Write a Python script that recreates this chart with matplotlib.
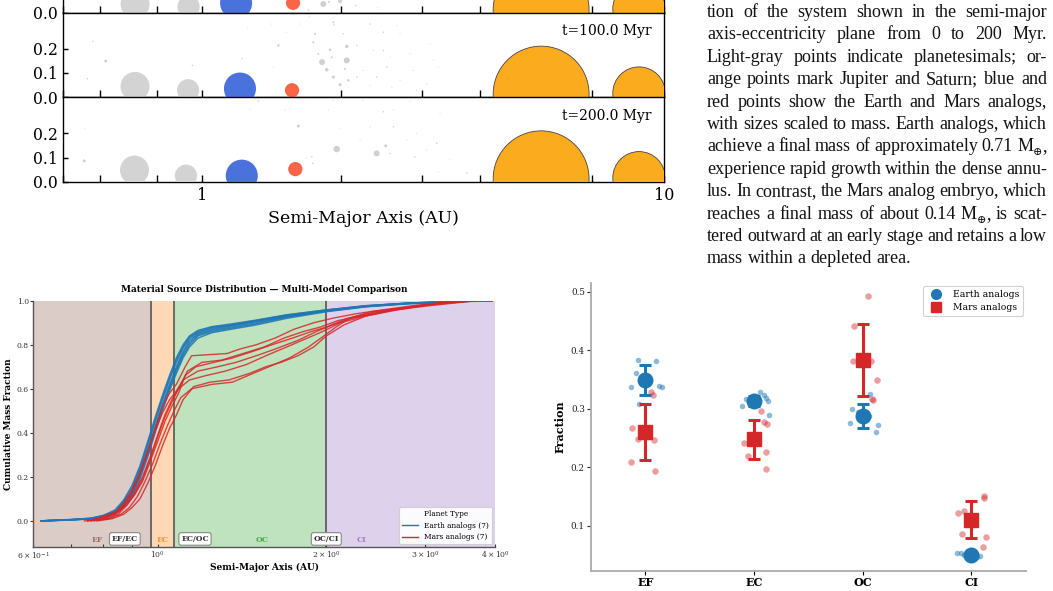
import matplotlib
matplotlib.use('Agg')
import matplotlib.pyplot as plt
import numpy as np
from matplotlib.ticker import FixedLocator, LogLocator, NullFormatter, FixedFormatter
from matplotlib.lines import Line2D

W, H = 1053, 591
plt.rcParams['font.family'] = ['DejaVu Serif']
plt.rcParams['mathtext.fontset'] = 'dejavuserif'

# ======================= DATA =======================
# --- Panel A: a-e snapshots (top snapshot is cut off by the page) ---
snap_times = [None, 100.0, 200.0]
embryo_a = [[0.716, 0.935, 1.185, 1.574],
            [0.716, 0.933, 1.208, 1.566],
            [0.714, 0.923, 1.219, 1.592]]
embryo_e = [[0.035, 0.025, 0.040, 0.041],
            [0.044, 0.028, 0.035, 0.028],
            [0.048, 0.025, 0.025, 0.052]]
embryo_mass = [0.58, 0.34, 0.71, 0.14]          # Earth masses
embryo_kind = ['other', 'other', 'earth', 'mars']
giant_a = [5.42, 8.83]
giant_e = [0.012, 0.016]
giant_mass = [317.8, 95.2]

pl_top_a = [1.83, 1.99, 1.88, 2.15, 2.40, 1.70]
pl_top_e = [0.036, 0.048, 0.045, 0.030, 0.020, 0.010]
pl_top_m = [0.025, 0.011, 0.0028, 0.0016, 0.0007, 0.0016]

pl_mid_a = [0.619, 0.580, 0.565, 0.953, 1.219, 1.256, 1.411, 1.463, 1.427, 1.525,
            1.630, 1.707, 1.756, 1.741, 1.785, 1.819, 1.862, 1.893, 1.909, 1.924,
            1.930, 1.924, 1.990, 2.057, 2.057, 2.073, 2.022, 2.039, 2.310, 2.469,
            2.639, 2.683, 2.162, 2.348, 2.469, 2.553, 2.819, 3.116, 3.168, 3.248,
            2.511, 2.234, 2.867, 2.162, 2.388, 2.683, 3.064, 2.310, 2.574, 2.915]
pl_mid_e = [0.149, 0.231, 0.076, 0.131, 0.159, 0.289, 0.303, 0.214, 0.124, 0.269,
            0.303, 0.333, 0.262, 0.227, 0.179, 0.145, 0.113, 0.196, 0.165, 0.310,
            0.300, 0.083, 0.051, 0.152, 0.210, 0.069, 0.262, 0.117, 0.303, 0.269,
            0.296, 0.262, 0.214, 0.193, 0.193, 0.165, 0.179, 0.221, 0.152, 0.124,
            0.124, 0.110, 0.110, 0.083, 0.083, 0.069, 0.055, 0.048, 0.041, 0.028]
pl_mid_m = [0.0062, 0.0016, 0.0016, 0.0016, 0.0016, 0.0007, 0.0007, 0.0043, 0.0007, 0.0007,
            0.0007, 0.0007, 0.0028, 0.0028, 0.0028, 0.025, 0.0085, 0.0043, 0.0028, 0.0028,
            0.0016, 0.0062, 0.0062, 0.025, 0.0085, 0.0043, 0.0016, 0.0028, 0.0016, 0.0016,
            0.0007, 0.0007, 0.0016, 0.0007, 0.0016, 0.0007, 0.0007, 0.0007, 0.0007, 0.0007,
            0.0016, 0.0007, 0.0007, 0.0016, 0.0016, 0.0007, 0.0007, 0.0007, 0.0007, 0.0007]

pl_bot_a = [0.556, 0.558, 1.324, 1.270, 1.616, 1.512, 1.551, 1.736, 1.728, 1.685,
            1.957, 1.983, 1.924, 1.876, 2.388, 2.498, 2.227, 2.469, 2.595, 2.819,
            2.310, 2.595, 2.915, 3.275, 2.198, 2.774, 3.221, 2.553, 2.891, 3.064,
            3.248, 3.741, 3.442]
pl_bot_e = [0.086, 0.221, 0.333, 0.299, 0.230, 0.296, 0.300, 0.076, 0.103, 0.097,
            0.135, 0.221, 0.338, 0.296, 0.117, 0.148, 0.338, 0.289, 0.296, 0.330,
            0.227, 0.227, 0.200, 0.283, 0.172, 0.172, 0.159, 0.117, 0.103, 0.131,
            0.041, 0.035, 0.090]
pl_bot_m = [0.0062, 0.0007, 0.0016, 0.0007, 0.0062, 0.0007, 0.0007, 0.0016, 0.0016, 0.0007,
            0.029, 0.0007, 0.0007, 0.0007, 0.025, 0.0062, 0.0007, 0.0016, 0.0007, 0.0007,
            0.0007, 0.0016, 0.0007, 0.0007, 0.0007, 0.0007, 0.0016, 0.0016, 0.0016, 0.0007,
            0.0007, 0.0016, 0.0007]

# --- Caption text ("M_⊕" = M with subscript ⊕) ---
caption_lines = [
    "tion of the system shown in the semi-major",
    "axis-eccentricity plane from 0 to 200 Myr.",
    "Light-gray points indicate planetesimals; or-",
    "ange points mark Jupiter and Saturn; blue and",
    "red points show the Earth and Mars analogs,",
    "with sizes scaled to mass. Earth analogs, which",
    "achieve a final mass of approximately 0.71 M_⊕,",
    "experience rapid growth within the dense annu-",
    "lus. In contrast, the Mars analog embryo, which",
    "reaches a final mass of about 0.14 M_⊕, is scat-",
    "tered outward at an early stage and retains a low",
    "mass within a depleted area.",
]

# --- Panel C: cumulative mass fraction vs source location ---
zone_names = ['EF', 'EC', 'OC', 'CI']
zone_edges = [0.6, 0.975, 1.07, 2.0, 4.0]
zone_label_a = [0.78, 1.02, 1.535, 2.31]
boundary_names = ['EF/EC', 'EC/OC', 'OC/CI']
boundary_label_a = [0.874, 1.166, 2.0]

blue_a = [0.62, 0.70, 0.76, 0.80, 0.84, 0.87, 0.90, 0.93, 0.96, 0.99, 1.02, 1.05, 1.08,
          1.11, 1.14, 1.18, 1.25, 1.35, 1.50, 1.70, 2.00, 2.35, 2.80, 3.30, 3.95]
blue_y = [
    [0, 0.005, 0.010, 0.020, 0.040, 0.080, 0.13, 0.22, 0.32, 0.43, 0.53, 0.62, 0.70, 0.77, 0.820, 0.850, 0.870, 0.885, 0.905, 0.930, 0.955, 0.975, 0.988, 0.995, 1.0],
    [0, 0.004, 0.010, 0.020, 0.035, 0.070, 0.12, 0.20, 0.30, 0.41, 0.51, 0.60, 0.68, 0.75, 0.800, 0.840, 0.860, 0.875, 0.895, 0.925, 0.952, 0.973, 0.987, 0.995, 1.0],
    [0, 0.006, 0.012, 0.025, 0.045, 0.090, 0.15, 0.24, 0.35, 0.46, 0.56, 0.65, 0.73, 0.79, 0.835, 0.860, 0.880, 0.890, 0.910, 0.935, 0.958, 0.977, 0.989, 0.996, 1.0],
    [0, 0.005, 0.010, 0.020, 0.040, 0.075, 0.12, 0.21, 0.31, 0.42, 0.52, 0.61, 0.69, 0.76, 0.810, 0.845, 0.865, 0.880, 0.900, 0.928, 0.953, 0.974, 0.988, 0.995, 1.0],
    [0, 0.005, 0.012, 0.022, 0.042, 0.085, 0.14, 0.23, 0.34, 0.45, 0.55, 0.64, 0.72, 0.785, 0.830, 0.855, 0.875, 0.888, 0.908, 0.932, 0.956, 0.976, 0.989, 0.996, 1.0],
    [0, 0.004, 0.009, 0.018, 0.035, 0.065, 0.11, 0.19, 0.29, 0.40, 0.50, 0.59, 0.67, 0.74, 0.790, 0.830, 0.855, 0.870, 0.890, 0.920, 0.950, 0.972, 0.986, 0.994, 1.0],
    [0, 0.006, 0.011, 0.024, 0.050, 0.095, 0.16, 0.25, 0.36, 0.47, 0.57, 0.66, 0.74, 0.80, 0.840, 0.865, 0.882, 0.894, 0.912, 0.936, 0.958, 0.977, 0.989, 0.996, 1.0],
]

red_a = [
    [0.74, 0.80, 0.84, 0.87, 0.90, 0.93, 0.96, 0.99, 1.02, 1.05, 1.08, 1.12, 1.15, 1.33, 1.40, 1.50, 1.62, 1.75, 1.90, 2.05, 2.25, 2.55, 2.90, 3.30, 3.60],
    [0.76, 0.81, 0.85, 0.88, 0.91, 0.94, 0.97, 1.00, 1.03, 1.06, 1.09, 1.13, 1.20, 1.30, 1.42, 1.55, 1.68, 1.82, 1.95, 2.10, 2.30, 2.60, 3.00, 3.40, 3.70],
    [0.75, 0.80, 0.84, 0.87, 0.90, 0.93, 0.96, 0.99, 1.02, 1.05, 1.08, 1.11, 1.18, 1.28, 1.38, 1.50, 1.62, 1.78, 1.92, 2.05, 2.22, 2.50, 2.85, 3.20, 3.60],
    [0.77, 0.82, 0.86, 0.89, 0.92, 0.95, 0.98, 1.01, 1.04, 1.07, 1.10, 1.15, 1.25, 1.36, 1.45, 1.58, 1.72, 1.86, 1.98, 2.08, 2.20, 2.40, 2.80, 3.20, 3.60],
    [0.75, 0.80, 0.85, 0.88, 0.91, 0.94, 0.97, 1.00, 1.03, 1.06, 1.09, 1.14, 1.22, 1.32, 1.44, 1.56, 1.70, 1.85, 1.97, 2.12, 2.35, 2.65, 3.00, 3.35, 3.65],
    [0.76, 0.81, 0.85, 0.88, 0.91, 0.94, 0.97, 1.00, 1.03, 1.06, 1.09, 1.12, 1.17, 1.26, 1.36, 1.48, 1.60, 1.74, 1.88, 2.00, 2.18, 2.45, 2.80, 3.15, 3.55],
    [0.78, 0.83, 0.87, 0.90, 0.93, 0.96, 0.99, 1.02, 1.05, 1.08, 1.11, 1.16, 1.24, 1.34, 1.46, 1.56, 1.66, 1.78, 1.90, 2.00, 2.15, 2.35, 2.70, 3.10, 3.50],
]
red_y = [
    [0, 0.01, 0.03, 0.07, 0.13, 0.21, 0.31, 0.42, 0.52, 0.58, 0.62, 0.70, 0.75, 0.76, 0.78, 0.80, 0.83, 0.87, 0.90, 0.92, 0.94, 0.96, 0.98, 0.99, 1.0],
    [0, 0.01, 0.03, 0.07, 0.12, 0.19, 0.28, 0.38, 0.47, 0.54, 0.60, 0.68, 0.72, 0.73, 0.76, 0.79, 0.83, 0.86, 0.88, 0.91, 0.93, 0.955, 0.975, 0.99, 1.0],
    [0, 0.02, 0.04, 0.08, 0.14, 0.22, 0.32, 0.41, 0.49, 0.55, 0.59, 0.64, 0.68, 0.70, 0.72, 0.75, 0.78, 0.82, 0.86, 0.89, 0.92, 0.95, 0.97, 0.99, 1.0],
    [0, 0.01, 0.03, 0.06, 0.11, 0.18, 0.26, 0.35, 0.43, 0.50, 0.56, 0.60, 0.62, 0.63, 0.66, 0.70, 0.74, 0.79, 0.84, 0.88, 0.92, 0.95, 0.97, 0.99, 1.0],
    [0, 0.01, 0.04, 0.08, 0.13, 0.20, 0.29, 0.39, 0.48, 0.55, 0.60, 0.64, 0.66, 0.68, 0.71, 0.75, 0.79, 0.83, 0.86, 0.90, 0.93, 0.96, 0.98, 0.99, 1.0],
    [0, 0.02, 0.04, 0.07, 0.12, 0.18, 0.27, 0.36, 0.45, 0.52, 0.58, 0.66, 0.70, 0.72, 0.74, 0.77, 0.80, 0.83, 0.86, 0.88, 0.92, 0.95, 0.97, 0.99, 1.0],
    [0, 0.01, 0.03, 0.06, 0.10, 0.17, 0.25, 0.34, 0.42, 0.48, 0.55, 0.61, 0.63, 0.64, 0.67, 0.70, 0.72, 0.75, 0.79, 0.84, 0.89, 0.93, 0.96, 0.985, 1.0],
]

# --- Panel D: source fractions ---
categories = ['EF', 'EC', 'OC', 'CI']
earth_mean = [0.349, 0.313, 0.288, 0.050]
earth_err = [0.026, 0.008, 0.020, 0.003]
mars_mean = [0.260, 0.248, 0.383, 0.111]
mars_err = [0.048, 0.033, 0.061, 0.032]
earth_pts = [[0.383, 0.361, 0.381, 0.337, 0.339, 0.337, 0.308],
             [0.328, 0.317, 0.323, 0.319, 0.314, 0.305, 0.290],
             [0.325, 0.300, 0.287, 0.275, 0.273, 0.261, 0.294],
             [0.0535, 0.054, 0.050, 0.049, 0.047, 0.048, 0.052]]
earth_jit = [[-0.064, -0.088, 0.096, -0.132, 0.126, 0.151, -0.061],
             [0.058, -0.071, 0.095, 0.110, 0.129, -0.114, 0.134],
             [0.067, -0.099, 0.061, -0.120, 0.144, 0.122, -0.040],
             [-0.130, -0.095, -0.070, 0.076, 0.052, -0.040, 0.040]]
mars_pts = [[0.329, 0.324, 0.268, 0.249, 0.247, 0.210, 0.194],
            [0.296, 0.278, 0.274, 0.242, 0.226, 0.220, 0.198],
            [0.493, 0.442, 0.382, 0.382, 0.349, 0.317, 0.315],
            [0.151, 0.147, 0.122, 0.125, 0.087, 0.081, 0.064]]
mars_jit = [[0.050, 0.070, -0.120, -0.064, 0.080, -0.135, 0.089],
            [0.064, 0.095, 0.120, -0.096, 0.107, -0.059, 0.110],
            [0.052, -0.080, -0.086, 0.077, 0.134, 0.088, 0.095],
            [0.117, 0.117, -0.125, -0.065, -0.090, 0.136, 0.108]]

# ======================= FIGURE =======================
fig = plt.figure(figsize=(W / 100, H / 100), dpi=100)


def add_ax_px(x0, y0, x1, y1):
    return fig.add_axes([x0 / W, 1 - y1 / H, (x1 - x0) / W, (y1 - y0) / H])


# ---------------- Panel A ----------------
EMB_K = 750.0     # marker area per Earth mass (embryos / planetesimals)
GIANT_K = 15.0    # marker area per Earth mass (giants)
kind_color = {'other': '#d3d3d3', 'earth': '#4a72dc', 'mars': '#fa6548'}
pl_sets = [(pl_top_a, pl_top_e, pl_top_m), (pl_mid_a, pl_mid_e, pl_mid_m), (pl_bot_a, pl_bot_e, pl_bot_m)]
bounds = [-71.8, 12.7, 97.0, 181.7]
for k in range(3):
    ax = add_ax_px(63, bounds[k], 664, bounds[k + 1])
    pa, pe, pm = pl_sets[k]
    ax.scatter(pa, pe, s=np.array(pm) * EMB_K, color='#d0d0d0', linewidths=0, zorder=2)
    ax.scatter(embryo_a[k], embryo_e[k], s=np.array(embryo_mass) * EMB_K,
               c=[kind_color[q] for q in embryo_kind], linewidths=0, zorder=3)
    ax.scatter(giant_a, giant_e, s=np.array(giant_mass) * GIANT_K, color='#fbab1e',
               edgecolors='#444444', linewidths=0.6, zorder=3)
    ax.set_xscale('log')
    ax.set_xlim(0.5, 10)
    ax.set_ylim(0, 0.35)
    if k == 0:
        ax.set_yticks([0.0])
        ax.set_yticklabels(['0.0'])
    else:
        ax.set_yticks([0.0, 0.1, 0.2])
        ax.set_yticklabels(['0.0', '0.1', '0.2'])
    ax.xaxis.set_major_locator(FixedLocator([1, 10]))
    ax.xaxis.set_minor_locator(LogLocator(base=10, subs=np.arange(2, 10)))
    ax.xaxis.set_minor_formatter(NullFormatter())
    if k == 2:
        ax.xaxis.set_major_formatter(FixedFormatter(['1', '10']))
        ax.set_xlabel('Semi-Major Axis (AU)', fontsize=12.5, labelpad=4)
    else:
        ax.xaxis.set_major_formatter(NullFormatter())
    ax.tick_params(axis='x', which='both', direction='in', length=5, width=1, labelsize=11.5, pad=4)
    ax.tick_params(axis='y', direction='in', length=3.5, width=1, labelsize=11.3, pad=3.5)
    for sp in ax.spines.values():
        sp.set_linewidth(1.0)
    if snap_times[k] is not None:
        ax.text(0.98, 0.78, f't={snap_times[k]:.1f} Myr', transform=ax.transAxes,
                ha='right', va='center', fontsize=10)

# ---------------- Caption text (justified) ----------------
renderer = fig.canvas.get_renderer()
X0, X1 = 707.0, 1047.0
cap_font = ['Liberation Serif', 'DejaVu Serif']
SUB = '_⊕'


def word_parts(w):
    # returns list of (text, is_subscript)
    if SUB in w:
        pre, post = w.split(SUB)
        parts = [(pre, False), ('⊕', True)]
        if post:
            parts.append((post, False))
        return parts
    return [(w, False)]


def make_word(w, fs):
    arts = []
    for txt, sub in word_parts(w):
        t = fig.text(0, 0, txt, fontsize=fs * (0.62 if sub else 1.0), family=cap_font,
                     ha='left', va='baseline', color='#111111')
        arts.append((t, sub))
    widths = [t.get_window_extent(renderer).width for t, _ in arts]
    return arts, widths


def place_word(arts, widths, x, yb, fs):
    xx = x
    for (t, sub), w in zip(arts, widths):
        dy = (0.22 * fs * 100 / 72) if sub else 0.0
        t.set_position((xx / W, 1 - (yb + dy) / H))
        xx += w


# fit font size so the tightest line fits with a shrunk inter-word space
fs0 = 12.0
need = []
for line in caption_lines[:-1]:
    ws = line.split(' ')
    tot = 0.0
    for w in ws:
        arts, widths = make_word(w, fs0)
        tot += sum(widths)
        for t, _ in arts:
            t.remove()
    need.append((tot / fs0, len(ws) - 1))
fs = min((X1 - X0) / (a + n * 0.21 * 100 / 72) for a, n in need)
space_px = 0.25 * fs * 100 / 72

for i, line in enumerate(caption_lines):
    yb = 17.0 + 22.4 * i
    words = line.split(' ')
    made = [make_word(w, fs) for w in words]
    wsum = sum(sum(wd) for _, wd in made)
    if i < len(caption_lines) - 1 and len(words) > 1:
        gap = (X1 - X0 - wsum) / (len(words) - 1)
    else:
        gap = space_px
    x = X0
    for arts, widths in made:
        place_word(arts, widths, x, yb, fs)
        x += sum(widths) + gap

# ---------------- Panel C ----------------
axc = add_ax_px(33.3, 300.7, 495, 547.3)
zone_colors = ['#8c564b', '#ff7f0e', '#2ca02c', '#9467bd']
for z in range(4):
    axc.axvspan(zone_edges[z], zone_edges[z + 1], color=zone_colors[z], alpha=0.3, lw=0, zorder=0)
for b in zone_edges[1:4]:
    axc.axvline(b, color='#555555', lw=1.2, zorder=1)
for yv in blue_y:
    axc.plot(blue_a, yv, color='#1f77b4', lw=1.1, alpha=0.85, zorder=2)
for av, yv in zip(red_a, red_y):
    axc.plot(av, yv, color='#d62728', lw=1.0, alpha=0.85, zorder=3)
for z in range(4):
    axc.text(zone_label_a[z], -0.088, zone_names[z], color=zone_colors[z], fontsize=5.5,
             fontweight='bold', ha='center', va='center', alpha=0.8, zorder=4)
for nm, xa in zip(boundary_names, boundary_label_a):
    axc.text(xa, -0.082, nm, fontsize=5.5, fontweight='bold', color='#333333', ha='center', va='center',
             zorder=5, bbox=dict(boxstyle='round,pad=0.3', fc='white', ec='#888888', lw=0.8))
axc.set_xscale('log')
axc.set_xlim(0.6, 4.0)
axc.set_ylim(-0.12, 1.0)
axc.set_yticks([0.0, 0.2, 0.4, 0.6, 0.8, 1.0])
axc.tick_params(axis='y', which='both', labelsize=5.5, colors='#333333', length=2, width=0.8, pad=1.2)
axc.tick_params(axis='x', which='both', labelsize=5.5, colors='#333333', direction='in',
                length=2.5, width=0.8, pad=2)
for s in ['top', 'right']:
    axc.spines[s].set_visible(False)
for s in ['left', 'bottom']:
    axc.spines[s].set_color('#555555')
    axc.spines[s].set_linewidth(1.0)
axc.set_title('Material Source Distribution — Multi-Model Comparison', fontsize=6.5,
              fontweight='bold', pad=6)
axc.set_xlabel('Semi-Major Axis (AU)', fontsize=6.5, fontweight='bold', labelpad=1)
axc.set_ylabel('Cumulative Mass Fraction', fontsize=6.5, fontweight='bold', labelpad=3)
hc = [Line2D([], [], color='#1f77b4', lw=1.0), Line2D([], [], color='#d62728', lw=1.0)]
legc = axc.legend(hc, ['Earth analogs (7)', 'Mars analogs (7)'], title='Planet Type',
                  loc='lower right', fontsize=5.3, title_fontsize=5.3, framealpha=0.9,
                  edgecolor='#cccccc', borderaxespad=0.4, handlelength=2.2)
legc.get_frame().set_linewidth(0.8)

# ---------------- Panel D ----------------
axd = add_ax_px(591, 283.3, 1025.7, 571)
xs = np.arange(len(categories))
for i in range(len(categories)):
    axd.scatter(i + np.array(earth_jit[i]), earth_pts[i], s=16, color='#1f77b4', alpha=0.5,
                linewidths=0, zorder=2)
    axd.scatter(i + np.array(mars_jit[i]), mars_pts[i], s=22, color='#d62728', alpha=0.45,
                linewidths=0, zorder=2)
axd.errorbar(xs, mars_mean, yerr=mars_err, fmt='s', color='#d62728', ms=10.5, capsize=4,
             elinewidth=2.2, capthick=2.2, zorder=3)
axd.errorbar(xs, earth_mean, yerr=earth_err, fmt='o', color='#1f77b4', ms=10.5, capsize=4,
             elinewidth=2.2, capthick=2.2, zorder=4)
axd.set_xlim(-0.5, 3.5)
axd.set_ylim(0.0232, 0.514)
axd.set_xticks(xs)
axd.set_xticklabels(categories, fontsize=8, fontweight='bold')
axd.set_yticks([0.1, 0.2, 0.3, 0.4, 0.5])
axd.set_yticklabels(['0.1', '0.2', '0.3', '0.4', '0.5'])
axd.tick_params(axis='y', labelsize=6.3, length=3, width=0.8, colors='#222222', pad=1.5)
axd.tick_params(axis='x', length=3, width=0.8, pad=1.5)
for s in ['top', 'right']:
    axd.spines[s].set_visible(False)
for s in ['left', 'bottom']:
    axd.spines[s].set_color('#aaaaaa')
    axd.spines[s].set_linewidth(1.3)
axd.set_ylabel('Fraction', fontsize=8, fontweight='bold', labelpad=4)
hd = [Line2D([], [], marker='o', color='#1f77b4', ls='none', ms=7),
      Line2D([], [], marker='s', color='#d62728', ls='none', ms=7)]
legd = axd.legend(hd, ['Earth analogs', 'Mars analogs'], loc='upper right', fontsize=6.7,
                  framealpha=0.9, edgecolor='#cccccc', borderaxespad=0.3, handletextpad=0.8)
legd.get_frame().set_linewidth(0.8)

fig.savefig('out.png', dpi=100)
